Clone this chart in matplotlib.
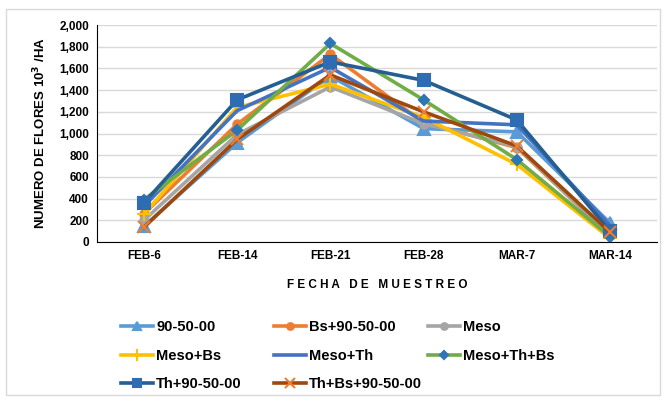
import numpy as np
import matplotlib
matplotlib.use("Agg")
from matplotlib import pyplot as plt
from matplotlib.patches import Rectangle

plt.rcParams['font.family'] = ['Liberation Sans', 'DejaVu Sans']

# categories on the x axis
fechas = ["FEB-6", "FEB-14", "FEB-21", "FEB-28", "MAR-7", "MAR-14"]

# series values
t_90_50_00 = [145, 915, 1530, 1045, 1015, 175]
bs_90_50_00 = [260, 1085, 1730, 1100, 870, 60]
meso = [200, 990, 1430, 1090, 880, 60]
meso_bs = [255, 1240, 1455, 1150, 715, 35]
meso_th = [330, 1210, 1610, 1115, 1080, 150]
meso_th_bs = [390, 1030, 1830, 1310, 760, 50]
th_90_50_00 = [360, 1310, 1660, 1490, 1125, 100]
th_bs_90_50_00 = [135, 945, 1540, 1200, 885, 90]

nombres = ["90-50-00", "Bs+90-50-00", "Meso", "Meso+Bs", "Meso+Th",
           "Meso+Th+Bs", "Th+90-50-00", "Th+Bs+90-50-00"]
series = [t_90_50_00, bs_90_50_00, meso, meso_bs, meso_th,
          meso_th_bs, th_90_50_00, th_bs_90_50_00]
colores = ["#5B9BD5", "#ED7D31", "#A5A5A5", "#FFC000", "#4472C4",
           "#70AD47", "#255E91", "#9E480E"]
marcas = ["^", "o", "o", "+", None, "D", "s", "x"]
color_marca = ["#5B9BD5", "#ED7D31", "#A5A5A5", "#FFC000", "#4472C4",
               "#2E75B6", "#2E6DB4", "#ED7D31"]
tam = [8, 6, 6, 10, 0, 5, 8, 9]

fig = plt.figure(figsize=(6.66, 4.0), dpi=100)
ax = fig.add_axes([0.146, 0.395, 0.84, 0.5425])

x = np.arange(len(fechas))
handles = []
for i in range(len(series)):
    h, = ax.plot(x, series[i], color=colores[i], lw=2.6, marker=marcas[i],
                 markersize=tam[i], markerfacecolor=color_marca[i],
                 markeredgecolor=color_marca[i], markeredgewidth=1.5,
                 label=nombres[i])
    handles.append(h)

ax.set_xlim(-0.5, len(fechas) - 0.5)
ax.set_ylim(0, 2000)
ax.set_yticks(np.arange(0, 2001, 200))
ax.set_yticklabels(["{:,}".format(v) for v in range(0, 2001, 200)])
ax.set_xticks(x)
ax.set_xticklabels(fechas)
ax.tick_params(axis='both', length=0, labelsize=8.5, pad=6)
for lab in ax.get_xticklabels() + ax.get_yticklabels():
    lab.set_fontweight('bold')
ax.grid(axis='y', color='#D9D9D9', lw=1)
ax.set_axisbelow(True)
for s in ['top', 'right']:
    ax.spines[s].set_visible(False)
ax.spines['left'].set_color('black')
ax.spines['bottom'].set_color('black')

ax.set_ylabel("NUMERO DE FLORES 10$^\\mathbf{3}$ /HA", fontsize=9.5,
              fontweight='bold', labelpad=8)
ax.set_xlabel("F E C H A   D E   M U E S T R E O", fontsize=8.5,
              fontweight='bold', labelpad=12)

# legend as three equal-width columns, filled row by row
columnas = [[0, 3, 6], [1, 4, 7], [2, 5]]
x_col = [0.162, 0.392, 0.623]
for c in range(3):
    fig.legend([handles[i] for i in columnas[c]],
               [nombres[i] for i in columnas[c]],
               loc='upper left', bbox_to_anchor=(x_col[c], 0.232),
               frameon=False, prop={'size': 10.5, 'weight': 'bold'},
               handlelength=2.2, handletextpad=0.2, markerscale=0.8,
               labelspacing=1.0)

fig.patches.append(Rectangle((0.009, 0.012), 0.982, 0.965,
                             transform=fig.transFigure, fill=False,
                             edgecolor='#D9D9D9', lw=1))

fig.savefig("out.png", dpi=100)
